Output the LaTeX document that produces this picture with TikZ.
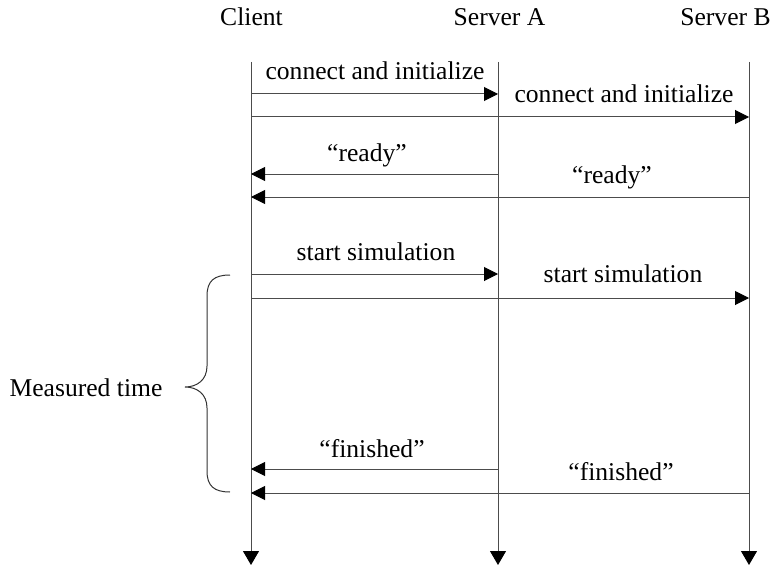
\documentclass[tikz,border=0pt]{standalone}
\usepackage{fontspec}
\setmainfont{Liberation Serif}
\usetikzlibrary{arrows.meta}
\begin{document}
\begin{tikzpicture}[x=0.5pt,y=-0.5pt,
  every node/.style={font=\fontsize{12.8}{15}\selectfont, inner sep=0pt},
  lifeline/.style={draw=black!70, line width=0.5pt, -{Triangle[length=7pt,width=8pt,color=black]}},
  msg/.style={draw=black!70, line width=0.5pt, -{Triangle[length=7pt,width=7pt,color=black]}},
  msglabel/.style={anchor=base},
  bracestyle/.style={draw=black!80, line width=0.5pt}]
\useasboundingbox (0,0) rectangle (771,567);

% participants
\node (client) at (251.5,17) {Client};
\node (srva) at (499.5,17) {Server A};
\node (srvb) at (725.5,17) {Server B};

% lifeline ends
\coordinate (c0) at (251,62);  \coordinate (c1) at (251,565);
\coordinate (a0) at (498,62);  \coordinate (a1) at (498,565);
\coordinate (b0) at (749,62);  \coordinate (b1) at (749,565);
\draw[lifeline] (c0) -- (c1);
\draw[lifeline] (a0) -- (a1);
\draw[lifeline] (b0) -- (b1);

% message end points on the lifelines
\foreach \n/\y in {1/94,2/117,3/174,4/197,5/274,6/298,7/469,8/493}{
  \coordinate (c\n) at (251,\y);
  \coordinate (a\n) at (498,\y);
  \coordinate (b\n) at (749,\y);
}

% setup
\draw[msg] (c1) -- (a1);
\node[msglabel] (l1) at (375,80) {connect and initialize};
\draw[msg] (c2) -- (b2);
\node[msglabel] (l2) at (624,103) {connect and initialize};
\draw[msg] (a3) -- (c3);
\node[msglabel] (l3) at (367,162) {``ready''};
\draw[msg] (b4) -- (c4);
\node[msglabel] (l4) at (612,184) {``ready''};

% run
\draw[msg] (c5) -- (a5);
\node[msglabel] (l5) at (376,260) {start simulation};
\draw[msg] (c6) -- (b6);
\node[msglabel] (l6) at (623,282) {start simulation};
\draw[msg] (a7) -- (c7);
\node[msglabel] (l7) at (372,457) {``finished''};
\draw[msg] (b8) -- (c8);
\node[msglabel] (l8) at (621,480) {``finished''};

% measured interval
\coordinate (btop) at (230,275);
\coordinate (bbot) at (230,492);
\coordinate (btip) at (185,387);
\draw[bracestyle] (btop) .. controls (214,275) and (207,281) .. (207,296)
  -- (207,366) .. controls (207,380) and (197,387) .. (btip)
  .. controls (197,387) and (207,394) .. (207,408)
  -- (207,471) .. controls (207,486) and (214,492) .. (bbot);
\node (mt) at (86,388) {Measured time};
\end{tikzpicture}
\end{document}
